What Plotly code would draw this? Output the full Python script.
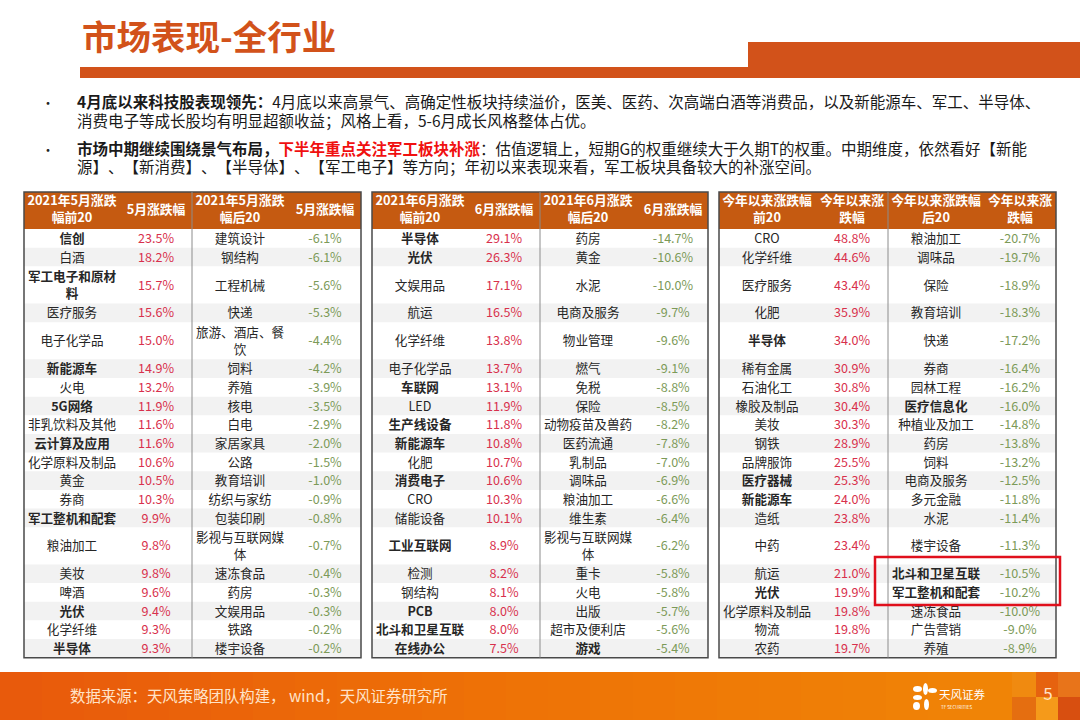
import numpy as np
import plotly.graph_objects as go

# --- data ---
title = "市场表现-全行业"
bullet_1 = ["<b>4月底以来科技股表现领先\uff1a</b>4月底以来高景气、高确定性板块持续溢价\uff0c医美、医药、次高端白酒等消费品\uff0c以及新能源车、军工、半导体、",
            "消费电子等成长股均有明显超额收益\uff1b风格上看\uff0c5-6月成长风格整体占优。"]
bullet_2 = ["<b>市场中期继续围绕景气布局\uff0c</b><b><span style='color:#f01010'>下半年重点关注军工板块补涨</span></b>\uff1a估值逻辑上\uff0c短期G的权重继续大于久期T的权重。中期维度\uff0c依然看好【新能",
            "源】\u200b、\u200b【新消费】\u200b、\u200b【半导体】\u200b、\u200b【军工电子】等方向\uff1b年初以来表现来看\uff0c军工板块具备较大的补涨空间。"]
source = "数据来源\uff1a天风策略团队构建\uff0c wind\uff0c天风证券研究所"

may_head = ["2021年5月涨跌<br>幅前20", "5月涨跌幅", "2021年5月涨跌<br>幅后20", "5月涨跌幅"]
may_top = ["信创", "白酒", "军工电子和原材<br>料", "医疗服务", "电子化学品", "新能源车", "火电", "5G网络", "非乳饮料及其他", "云计算及应用",
           "化学原料及制品", "黄金", "券商", "军工整机和配套", "粮油加工", "美妆", "啤酒", "光伏", "化学纤维", "半导体"]
may_top_val = [23.5, 18.2, 15.7, 15.6, 15.0, 14.9, 13.2, 11.9, 11.6, 11.6, 10.6, 10.5, 10.3, 9.9, 9.8, 9.8, 9.6, 9.4, 9.3, 9.3]
may_top_bold = ["信创", "军工电子和原材<br>料", "新能源车", "5G网络", "云计算及应用", "军工整机和配套", "光伏", "半导体"]
may_low = ["建筑设计", "钢结构", "工程机械", "快递", "旅游、酒店、餐<br>饮", "饲料", "养殖", "核电", "白电", "家居家具",
           "公路", "教育培训", "纺织与家纺", "包装印刷", "影视与互联网媒<br>体", "速冻食品", "药房", "文娱用品", "铁路", "楼宇设备"]
may_low_val = [-6.1, -6.1, -5.6, -5.3, -4.4, -4.2, -3.9, -3.5, -2.9, -2.0, -1.5, -1.0, -0.9, -0.8, -0.7, -0.4, -0.3, -0.3, -0.2, -0.2]
may_low_bold = []

jun_head = ["2021年6月涨跌<br>幅前20", "6月涨跌幅", "2021年6月涨跌<br>幅后20", "6月涨跌幅"]
jun_top = ["半导体", "光伏", "文娱用品", "航运", "化学纤维", "电子化学品", "车联网", "LED", "生产线设备", "新能源车",
           "化肥", "消费电子", "CRO", "储能设备", "工业互联网", "检测", "钢结构", "PCB", "北斗和卫星互联", "在线办公"]
jun_top_val = [29.1, 26.3, 17.1, 16.5, 13.8, 13.7, 13.1, 11.9, 11.8, 10.8, 10.7, 10.6, 10.3, 10.1, 8.9, 8.2, 8.1, 8.0, 8.0, 7.5]
jun_top_bold = ["半导体", "光伏", "车联网", "生产线设备", "新能源车", "消费电子", "工业互联网", "PCB", "北斗和卫星互联", "在线办公"]
jun_low = ["药房", "黄金", "水泥", "电商及服务", "物业管理", "燃气", "免税", "保险", "动物疫苗及兽药", "医药流通",
           "乳制品", "调味品", "粮油加工", "维生素", "影视与互联网媒<br>体", "重卡", "火电", "出版", "超市及便利店", "游戏"]
jun_low_val = [-14.7, -10.6, -10.0, -9.7, -9.6, -9.1, -8.8, -8.5, -8.2, -7.8, -7.0, -6.9, -6.6, -6.4, -6.2, -5.8, -5.8, -5.7, -5.6, -5.4]
jun_low_bold = ["游戏"]

ytd_head = ["今年以来涨跌幅<br>前20", "今年以来涨<br>跌幅", "今年以来涨跌幅<br>后20", "今年以来涨<br>跌幅"]
ytd_top = ["CRO", "化学纤维", "医疗服务", "化肥", "半导体", "稀有金属", "石油化工", "橡胶及制品", "美妆", "钢铁",
           "品牌服饰", "医疗器械", "新能源车", "造纸", "中药", "航运", "光伏", "化学原料及制品", "物流", "农药"]
ytd_top_val = [48.8, 44.6, 43.4, 35.9, 34.0, 30.9, 30.8, 30.4, 30.3, 28.9, 25.5, 25.3, 24.0, 23.8, 23.4, 21.0, 19.9, 19.8, 19.8, 19.7]
ytd_top_bold = ["半导体", "医疗器械", "新能源车", "光伏"]
ytd_low = ["粮油加工", "调味品", "保险", "教育培训", "快递", "券商", "园林工程", "医疗信息化", "种植业及加工", "药房",
           "饲料", "电商及服务", "多元金融", "水泥", "楼宇设备", "北斗和卫星互联", "军工整机和配套", "速冻食品", "广告营销", "养殖"]
ytd_low_val = [-20.7, -19.7, -18.9, -18.3, -17.2, -16.4, -16.2, -16.0, -14.8, -13.8, -13.2, -12.5, -11.8, -11.4, -11.3, -10.5, -10.2, -10.0, -9.0, -8.9]
ytd_low_bold = ["医疗信息化", "北斗和卫星互联", "军工整机和配套"]

# --- layout, in page pixels ---
ORANGE = "#d2521a"
HEAD = "#c55a11"
RED = "#d8304c"
GREEN = "#7c9a58"
FONT = "Noto Sans CJK SC"
CELL_SIZE = 12.6
TEXT_DY = 1.5

row_h = [37.2 if i in (2, 4, 14) else 18.65 for i in range(20)]
edges = 229 + np.concatenate([[0], np.cumsum(row_h)])
mids = (edges[:-1] + edges[1:]) / 2

tables = [
    dict(left=24, mid=192, right=361, cols=[72, 156, 240, 325], head=may_head,
         data=[(may_top, may_top_val, may_top_bold), (may_low, may_low_val, may_low_bold)]),
    dict(left=372, mid=540, right=708, cols=[420, 504, 588, 673], head=jun_head,
         data=[(jun_top, jun_top_val, jun_top_bold), (jun_low, jun_low_val, jun_low_bold)]),
    dict(left=719, mid=888, right=1056, cols=[767, 852, 936, 1020], head=ytd_head,
         data=[(ytd_top, ytd_top_val, ytd_top_bold), (ytd_low, ytd_low_val, ytd_low_bold)]),
]

shapes = []


def rect(x0, y0, x1, y1, fill, layer="below", line=None, lw=0):
    shapes.append(dict(type="rect", x0=x0, x1=x1, y0=y0, y1=y1, fillcolor=fill, layer=layer,
                       line=dict(color=line or fill, width=lw)))


def petal(x0, y0, x1, y1):
    shapes.append(dict(type="circle", x0=x0, x1=x1, y0=y0, y1=y1, fillcolor="white", layer="above",
                       line=dict(color="white", width=0)))


fig = go.Figure()


def add_text(x, y, text, size, color, pos="middle center"):
    fig.add_trace(go.Scatter(x=x, y=[v + TEXT_DY for v in y], text=text, mode="text", textposition=pos, hoverinfo="skip",
                             textfont=dict(family=FONT, size=size, color=color)))


# title band
rect(80, 67, 1080, 78, ORANGE)
rect(748, 42, 1080, 70, ORANGE)
add_text([82], [40], [f"<b>{title}</b>"], 34.5, ORANGE, "middle right")

# bullets
add_text([48, 48], [103, 150], ["•", "•"], 13, "#222222")
add_text([77] * 4, [103, 122, 150, 168], bullet_1 + bullet_2, 15.5, "#1a1a1a", "middle right")

# tables
for t in tables:
    rect(t["left"], 192, t["right"], 229, HEAD)
    for i, (y0, y1) in enumerate(zip(edges[:-1], edges[1:])):
        if i % 2 == 1:
            rect(t["left"], y0, t["right"], y1, "#f2f2f2")
    add_text(t["cols"], [209] * 4, [f"<b>{h}</b>" for h in t["head"]], 12.8, "#ffffff")
    for k, (names, vals, bold) in enumerate(t["data"]):
        labels = [f"<b>{n}</b>" if n in bold else n for n in names]
        add_text([t["cols"][k * 2]] * 20, mids, labels, CELL_SIZE, "#262626")
        add_text([t["cols"][k * 2 + 1]] * 20, mids, [f"{v:.1f}%" for v in vals], CELL_SIZE, RED if k == 0 else GREEN)
    rect(t["left"], 192, t["right"], edges[-1], "rgba(0,0,0,0)", "above", "#4a4a4a", 1.5)
    shapes.append(dict(type="line", x0=t["mid"], x1=t["mid"], y0=192, y1=edges[-1], layer="above",
                       line=dict(color="#8c8c8c", width=1)))

# highlight box
rect(875, 557, 1060, 605, "rgba(0,0,0,0)", "above", "#e0101c", 2.5)

# footer
rect(1012, 672, 1036, 697, "#f08a10")
rect(1012, 697, 1036, 720, "#e56e10")
rect(1036, 672, 1058, 697, "#e6620f")
rect(1036, 697, 1058, 720, "#f59a1a")
rect(1058, 672, 1080, 697, "#e8741a")
rect(1058, 697, 1080, 720, "#d84f10")
foot_x = np.linspace(0, 1012, 25)
foot_z = (foot_x[:-1] + foot_x[1:]) / 2
fig.add_trace(go.Heatmap(x=foot_x, y=[672, 720], z=[foot_z], showscale=False, hoverinfo="skip",
                         colorscale=[[0, "#e85a0c"], [0.5, "#ee7206"], [1, "#f08406"]]))
add_text([70], [697], [source], 15.4, "#ffe3c8", "middle right")
add_text([939], [695], ["天风证券"], 11.5, "#ffffff", "middle right")
add_text([941], [706], ["TF SECURITIES"], 4.5, "#ffffff", "middle right")
add_text([1048], [694], ["5"], 17, "#ffe3c8")

# logo flower
petal(923, 683, 928, 695)
petal(913, 686, 922, 692)
petal(928, 688, 937, 693)
petal(913, 695, 922, 700)
petal(913, 702, 920, 710)
petal(924, 699, 929, 710)

fig.update_layout(width=1080, height=720, margin=dict(l=0, r=0, t=0, b=0), showlegend=False,
                  paper_bgcolor="white", plot_bgcolor="white", shapes=shapes,
                  xaxis=dict(range=[0, 1080], visible=False, fixedrange=True),
                  yaxis=dict(range=[720, 0], visible=False, fixedrange=True))

fig.write_html("out.html", config=dict(displayModeBar=False), post_script="document.body.style.margin='0';")
